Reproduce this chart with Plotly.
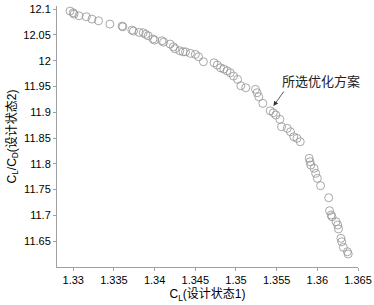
import plotly.graph_objects as go

cl1 = [1.3296, 1.3300, 1.3301, 1.3307, 1.3316, 1.3323, 1.3331, 1.3345, 1.3360, 1.3361,
       1.3372, 1.3374, 1.3381, 1.3386, 1.3389, 1.3392, 1.3398, 1.3400, 1.3409, 1.3411,
       1.3419, 1.3423, 1.3425, 1.3431, 1.3435, 1.3438, 1.3444, 1.3450, 1.3454, 1.3460,
       1.3473, 1.3477, 1.3481, 1.3485, 1.3489, 1.3493, 1.3497, 1.3502, 1.3506, 1.3512,
       1.3524, 1.3526, 1.3528, 1.3533, 1.3542, 1.3546, 1.3549, 1.3554, 1.3556, 1.3563,
       1.3567, 1.3571, 1.3575, 1.3579, 1.3590, 1.3591, 1.3592, 1.3596, 1.3598, 1.3600,
       1.3604, 1.3614, 1.3615, 1.3617, 1.3618, 1.3623, 1.3625, 1.3626, 1.3629, 1.3630,
       1.3632, 1.3637, 1.3638]
clcd2 = [12.0961, 12.0928, 12.0903, 12.0870, 12.0851, 12.0806, 12.0773, 12.0709, 12.0671, 12.0657,
         12.0593, 12.0574, 12.0548, 12.0541, 12.0510, 12.0483, 12.0419, 12.0399, 12.0386, 12.0360,
         12.0322, 12.0269, 12.0231, 12.0192, 12.0172, 12.0172, 12.0141, 12.0122, 12.0076, 11.9979,
         11.9959, 11.9915, 11.9862, 11.9837, 11.9804, 11.9765, 11.9702, 11.9637, 11.9514, 11.9475,
         11.9444, 11.9378, 11.9300, 11.9172, 11.9029, 11.8990, 11.8946, 11.8862, 11.8719, 11.8688,
         11.8622, 11.8525, 11.8494, 11.8428, 11.8107, 11.8041, 11.7977, 11.7913, 11.7816, 11.7719,
         11.7576, 11.7343, 11.7091, 11.7008, 11.6975, 11.6878, 11.6814, 11.6737, 11.6556, 11.6490,
         11.6382, 11.6296, 11.6252]

x_ticks = [1.33, 1.335, 1.34, 1.345, 1.35, 1.355, 1.36, 1.365]
x_tick_labels = ["1.33", "1.335", "1.34", "1.345", "1.35", "1.355", "1.36", "1.365"]
y_ticks = [11.65, 11.7, 11.75, 11.8, 11.85, 11.9, 11.95, 12.0, 12.05, 12.1]
y_tick_labels = ["11.65", "11.7", "11.75", "11.8", "11.85", "11.9", "11.95", "12", "12.05", "12.1"]

sel_label = "所选优化方案"
sel_text_pos = (1.3605, 11.9624)
sel_head = (1.3546, 11.912)
sel_tail = (1.3560, 11.943)

font_main = "Liberation Sans, Arial, Noto Sans CJK SC"

fig = go.Figure()
fig.add_trace(go.Scatter(
    x=cl1, y=clcd2, mode="markers", cliponaxis=False,
    marker=dict(symbol="circle-open", size=8, color="#929292", line=dict(width=0.8, color="#929292")),
    showlegend=False,
))

fig.add_annotation(x=sel_text_pos[0], y=sel_text_pos[1], text=sel_label, showarrow=False,
                   font=dict(family="Noto Sans CJK SC", size=13, color="#222"))
fig.add_annotation(x=sel_head[0], y=sel_head[1], ax=sel_tail[0], ay=sel_tail[1],
                   axref="x", ayref="y", text="", showarrow=True,
                   arrowhead=2, arrowsize=1.2, arrowwidth=0.8, arrowcolor="#333")

axis_common = dict(showline=True, linecolor="#a0a0a0", linewidth=1, ticks="outside",
                   ticklen=3, tickcolor="#a0a0a0", showgrid=False, zeroline=False,
                   automargin=False,
                   tickfont=dict(family=font_main, size=11, color="#000"))

fig.update_xaxes(range=[1.328, 1.365], tickvals=x_ticks, ticktext=x_tick_labels,
                 title=dict(text="C<sub>L</sub>(设计状态1)", font=dict(family=font_main, size=12, color="#000"),
                            standoff=4),
                 **axis_common)
fig.update_yaxes(range=[11.6, 12.106], tickvals=y_ticks, ticktext=y_tick_labels,
                 title=dict(text="C<sub>L</sub>/C<sub>D</sub>(设计状态2)", font=dict(family=font_main, size=12, color="#000"),
                            standoff=4),
                 **axis_common)

fig.update_layout(width=374, height=305, margin=dict(l=57, r=16, t=6, b=38),
                  paper_bgcolor="white", plot_bgcolor="white")

fig.write_html("out.html", config={"displayModeBar": False},
               post_script="document.body.style.margin='0px';document.body.style.padding='0px';")
